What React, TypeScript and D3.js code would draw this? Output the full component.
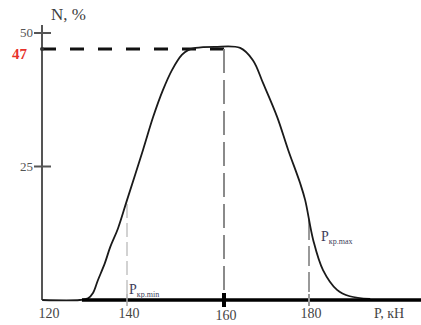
import React from 'react';
import * as d3 from 'd3';

// load P (kN) vs N (%)
const loadP = [119.3, 128.5, 130.5, 131.7, 132.9, 134.6, 135.9, 137.8, 140.0, 143.3, 145.4, 147.4, 149.3, 151.3, 152.6, 154.1, 158.1, 163.8, 166.8, 169.2, 172.5, 175.1, 177.9, 179.1, 181.0, 183.3, 186.6, 189.6, 194.4];
const shareN = [0, 0, 0.3, 1.3, 3.7, 6.9, 9.9, 13.4, 18.7, 28.1, 34.3, 39.3, 43.1, 45.9, 46.8, 47.2, 47.4, 47.2, 44.9, 40.6, 34.3, 28.1, 21.9, 18.7, 11.2, 5.6, 1.9, 0.7, 0.2];

const xTicks = [120, 140, 160, 180];
const yTicks = [25, 50];
const peakN = 47;
const peakP = 160;
const pMin = 140;
const pMax = 180;

const W = 421;
const H = 325;

const App = () => {
  // the hand-drawn axis is not evenly spaced, so piecewise linear
  const x = d3.scaleLinear().domain([120, 140, 160, 180, 200]).range([45, 127, 224, 309, 394]);
  const y = d3.scaleLinear().domain([0, 50]).range([300, 33]);
  const x0 = 42;

  const pts = loadP.map((p, i) => [p, shareN[i]] as [number, number]);
  const line = d3.line<[number, number]>()
    .x(d => Math.max(x0, x(d[0])))
    .y(d => y(d[1]))
    .curve(d3.curveCatmullRom.alpha(0.5));

  const serif = '"Liberation Serif", "DejaVu Serif", serif';

  return (
    <svg width={W} height={H} style={{ position: 'absolute', left: 0, top: 0, background: '#fff' }}>
      {/* guides */}
      <line x1={x0} x2={x(peakP)} y1={y(peakN)} y2={y(peakN)} stroke="#111" strokeWidth={3} strokeDasharray="14 14" />
      <line x1={x(peakP)} x2={x(peakP)} y1={y(peakN)} y2={y(0)} stroke="#8a8a8a" strokeWidth={2} strokeDasharray="24 7" />
      <line x1={x(pMin)} x2={x(pMin)} y1={y(18)} y2={y(0)} stroke="#c4c4c4" strokeWidth={1.5} strokeDasharray="14 5" />
      <line x1={x(pMax)} x2={x(pMax)} y1={y(15)} y2={y(0)} stroke="#999" strokeWidth={2} strokeDasharray="20 6" />

      {/* y axis */}
      <line x1={x0} x2={x0} y1={25} y2={y(0)} stroke="#555" strokeWidth={2} />
      {yTicks.map(t => (
        <g key={t}>
          <line x1={x0 - 8} x2={x0 + 9} y1={y(t)} y2={y(t)} stroke="#555" strokeWidth={2} />
          <text x={x0 - 9} y={y(t) + 4} textAnchor="end" fontFamily={serif} fontSize={13} fill="#555">{t}</text>
        </g>
      ))}
      <circle cx={x0} cy={y(peakN)} r={2} fill="#333" />
      <text x={x0 - 15} y={y(peakN) + 10} textAnchor="end" fontFamily={serif} fontSize={15} fontWeight="bold" fill="#e8302a">{peakN}</text>
      <text x={51} y={20} fontFamily={serif} fontSize={17} fill="#3d3d3d">N, %</text>

      {/* curve */}
      <path d={line(pts) ?? ''} fill="none" stroke="#1a1a1a" strokeWidth={1.8} />

      {/* x axis */}
      <line x1={x(129)} x2={W} y1={y(0)} y2={y(0)} stroke="#000" strokeWidth={3.5} />
      <line x1={x(pMin)} x2={x(pMin)} y1={294} y2={306} stroke="#aaa" strokeWidth={1.5} />
      <line x1={x(peakP)} x2={x(peakP)} y1={293} y2={307} stroke="#000" strokeWidth={4} />
      <line x1={x(pMax)} x2={x(pMax)} y1={294} y2={306} stroke="#999" strokeWidth={2} />
      {xTicks.map(t => (
        <text key={t} x={x(t) + (t === 120 ? 4 : 2)} y={t === 160 ? 320 : 318} textAnchor="middle" fontFamily={serif} fontSize={14} fill="#444">{t}</text>
      ))}
      <text x={374} y={318} fontFamily={serif} fontSize={14} fill="#444">P, кН</text>

      <text x={x(pMin) + 2} y={294} fontFamily={serif} fontSize={14} fill="#3d3d5a">
        P<tspan fontSize={8} dy={3}>кр.min</tspan>
      </text>
      <text x={x(pMax) + 12} y={241} fontFamily={serif} fontSize={14} fill="#3d3d5a">
        P<tspan fontSize={8} dy={3}>кр.max</tspan>
      </text>
    </svg>
  );
};

export default App;
